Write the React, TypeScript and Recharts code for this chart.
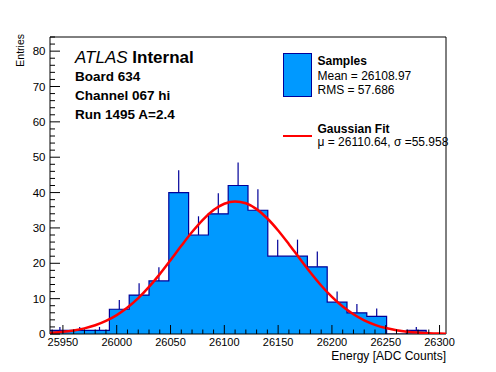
import React from 'react';
import { ComposedChart, Area, Line, Scatter, ErrorBar, XAxis, YAxis, ReferenceArea } from 'recharts';

const FONT = '"Liberation Sans", Arial, Helvetica, sans-serif';
const FILL = '#0099ff';
const EDGE = '#000099';

const X_MIN = 25938;
const X_MAX = 26306;
const Y_MAX = 84;

// histogram bins (left edges) and entries
const binEdges = [
  25938.0, 25956.4, 25974.8, 25993.2, 26011.6, 26030.0, 26048.4, 26066.8, 26085.2, 26103.6,
  26122.0, 26140.4, 26158.8, 26177.2, 26195.6, 26214.0, 26232.4, 26250.8, 26269.2, 26287.6,
];
const binCenters = [
  25947.2, 25965.6, 25984.0, 26002.4, 26020.8, 26039.2, 26057.6, 26076.0, 26094.4, 26112.8,
  26131.2, 26149.6, 26168.0, 26186.4, 26204.8, 26223.2, 26241.6, 26260.0, 26278.4, 26296.8,
];
const counts = [1, 1, 1, 7, 11, 15, 40, 28, 34, 42, 35, 22, 22, 19, 9, 6, 5, 0, 1, 0];
const errUp = [1, 1, 1, 2.65, 3.32, 3.87, 6.32, 5.29, 5.83, 6.48, 5.92, 4.69, 4.69, 4.36, 3, 2.45, 2.24, 0, 1, 0];

// red fit curve
const fitX = [
  25938, 25940, 25950, 25960, 25970, 25980, 25990, 26000, 26010, 26020, 26030, 26040, 26050,
  26060, 26070, 26080, 26090, 26100, 26110, 26120, 26130, 26140, 26150, 26160, 26170, 26180,
  26190, 26200, 26210, 26220, 26230, 26240, 26250, 26260, 26270, 26280, 26290, 26300, 26306,
];
const fitY = [
  0.32, 0.36, 0.61, 1.01, 1.6, 2.47, 3.69, 5.34, 7.47, 10.13, 13.31, 16.93, 20.88,
  24.93, 28.83, 32.3, 35.05, 36.84, 37.5, 36.98, 35.32, 32.67, 29.28, 25.41, 21.36, 17.4,
  13.72, 10.49, 7.76, 5.57, 3.86, 2.6, 1.69, 1.07, 0.65, 0.39, 0.22, 0.12, 0.08,
];

const xMajor = [25950, 26000, 26050, 26100, 26150, 26200, 26250, 26300];
const yMajor = [0, 10, 20, 30, 40, 50, 60, 70, 80];

const xTicks: number[] = [];
for (let v = 25940; v <= 26300; v += 10) xTicks.push(v);
const yTicks: number[] = [];
for (let v = 0; v <= 84; v += 2) yTicks.push(v);

const histData = [
  ...binEdges.map((x, i) => ({ x, y: counts[i] })),
  { x: X_MAX, y: counts[counts.length - 1] },
];
const errData = binCenters.map((x, i) => ({ x, y: counts[i], err: [0, errUp[i]] }));
const fitData = fitX.map((x, i) => ({ x, y: fitY[i] }));

const XTick = (props: any) => {
  const { x, y, payload } = props;
  const major = xMajor.includes(payload.value);
  return (
    <g>
      <line x1={x} y1={y} x2={x} y2={y - (major ? 9 : 4.5)} stroke="#000" strokeWidth={1} />
      {major && (
        <text x={x} y={y + 12} textAnchor="middle" fontSize={11} fontFamily={FONT} fill="#000">
          {payload.value}
        </text>
      )}
    </g>
  );
};

const YTick = (props: any) => {
  const { x, y, payload } = props;
  const major = yMajor.includes(payload.value);
  return (
    <g>
      <line x1={x} y1={y} x2={x + (major ? 10 : 5)} y2={y} stroke="#000" strokeWidth={1} />
      {major && (
        <text x={x - 4.5} y={y + 4} textAnchor="end" fontSize={11.5} fontFamily={FONT} fill="#000">
          {payload.value}
        </text>
      )}
    </g>
  );
};

export default function App() {
  return (
    <div style={{ position: 'absolute', left: 0, top: 0, width: 496, height: 372, background: '#fff' }}>
      <ComposedChart
        width={496}
        height={372}
        margin={{ top: 37, right: 50, bottom: 37, left: 49 }}
      >
        <Area
          data={histData}
          dataKey="y"
          type="stepAfter"
          fill={FILL}
          fillOpacity={1}
          stroke={EDGE}
          strokeWidth={1.2}
          isAnimationActive={false}
          baseValue={0}
        />
        <Scatter data={errData} dataKey="y" shape={() => <g />} isAnimationActive={false}>
          <ErrorBar dataKey="err" direction="y" width={0} stroke={EDGE} strokeWidth={1.2} isAnimationActive={false} />
        </Scatter>
        <Line
          data={fitData}
          dataKey="y"
          type="monotone"
          stroke="#ff0000"
          strokeWidth={2.5}
          dot={false}
          isAnimationActive={false}
        />
        <ReferenceArea x1={X_MIN} x2={X_MAX} y1={0} y2={Y_MAX} fill="none" stroke="#000" strokeWidth={1} fillOpacity={0} />
        <XAxis
          type="number"
          dataKey="x"
          domain={[X_MIN, X_MAX]}
          allowDataOverflow
          ticks={xTicks}
          interval={0}
          tick={<XTick />}
          tickLine={false}
          axisLine={false}
          tickSize={0}
          tickMargin={0}
          height={1}
        />
        <YAxis
          type="number"
          domain={[0, Y_MAX]}
          allowDataOverflow
          ticks={yTicks}
          interval={0}
          tick={<YTick />}
          tickLine={false}
          axisLine={false}
          tickSize={0}
          tickMargin={0}
          width={1}
        />
      </ComposedChart>

      <svg
        width={496}
        height={372}
        style={{ position: 'absolute', left: 0, top: 0, pointerEvents: 'none' }}
        fontFamily={FONT}
      >
        <text x={75} y={63} fontSize={17}>
          <tspan fontStyle="italic">ATLAS</tspan>
          <tspan fontWeight="bold"> Internal</tspan>
        </text>
        <text x={75} y={81} fontSize={13.5} fontWeight="bold">Board 634</text>
        <text x={75} y={100} fontSize={13.5} fontWeight="bold">Channel 067 hi</text>
        <text x={75} y={118.5} fontSize={13.5} fontWeight="bold">Run 1495 A=2.4</text>

        <rect x={283.5} y={53.5} width={28} height={43} fill={FILL} stroke={EDGE} strokeWidth={1} />
        <text x={317.5} y={65} fontSize={12} fontWeight="bold">Samples</text>
        <text x={317.5} y={80} fontSize={12}>Mean = 26108.97</text>
        <text x={317.5} y={93.5} fontSize={12}>RMS = 57.686</text>

        <line x1={283} y1={136} x2={312} y2={136} stroke="#ff0000" strokeWidth={2} />
        <text x={317.5} y={132.5} fontSize={12} fontWeight="bold">Gaussian Fit</text>
        <text x={317.5} y={146} fontSize={12}>μ = 26110.64, σ =55.958</text>

        <text x={446} y={359.5} fontSize={12} textAnchor="end">Energy [ADC Counts]</text>
        <text transform="translate(24, 34) rotate(-90)" fontSize={10.5} textAnchor="end">Entries</text>
      </svg>
    </div>
  );
}
